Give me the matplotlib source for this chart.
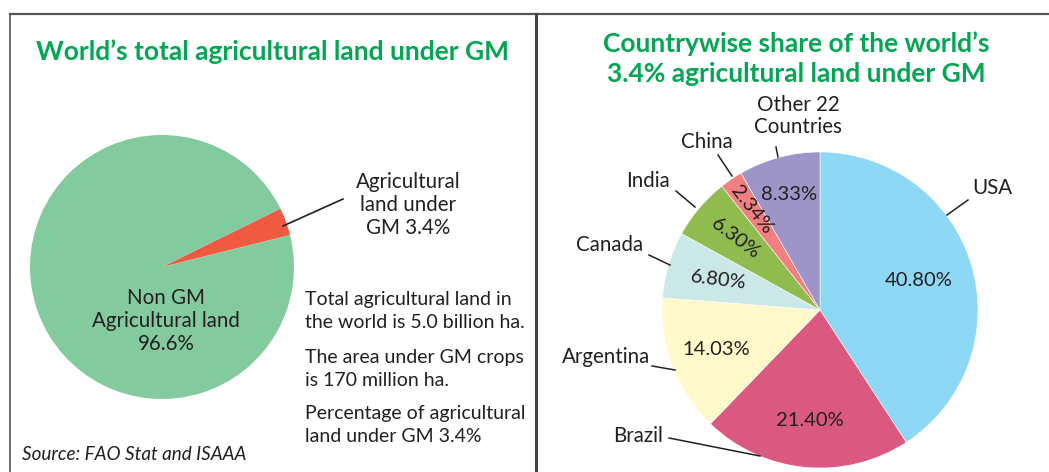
import matplotlib
matplotlib.use("Agg")
import matplotlib.pyplot as plt
import numpy as np

# ---- data ----
world_labels = ["Agricultural\nland under\nGM 3.4%", "Non GM\nAgricultural land\n96.6%"]
world_values = [3.4, 96.6]

countries = ["USA", "Brazil", "Argentina", "Canada", "India", "China", "Other 22\nCountries"]
country_share = [40.80, 21.40, 14.03, 6.80, 6.30, 2.34, 8.33]
share_text = ["40.80%", "21.40%", "14.03%", "6.80%", "6.30%", "2.34%", "8.33%"]

info_lines = ["Total agricultural land in", "the world is 5.0 billion ha.",
              "The area under GM crops", "is 170 million ha.",
              "Percentage of agricultural", "land under GM 3.4%"]

# ---- style ----
W, H = 1049, 472
FONT = "Lato"
TXT = "#231F20"
GREEN_T = "#00A651"
left_colors = ["#F15A40", "#83CB9E"]
right_colors = ["#8DD8F5", "#DB5880", "#FFF9CC", "#CAE8E6", "#90BC4F", "#F28080", "#9D95C8"]
TITLE_FS = 19
BODY_FS = 14.8

fig = plt.figure(figsize=(W / 100, H / 100), dpi=100)
ax = fig.add_axes([0, 0, 1, 1])


def Y(y):
    return H - y


# frame
ax.plot([10, W], [Y(14), Y(14)], color="#555555", lw=1.6)
ax.plot([10, 10], [Y(14), 0], color="#555555", lw=1.2)
ax.plot([536, 536], [Y(14), 0], color="#444444", lw=2.2)

# ---- left pie ----
lcx, lcy, lr = 162, 267, 132
ax.pie(world_values, colors=left_colors, startangle=14, counterclock=True,
       center=(lcx, Y(lcy)), radius=lr, frame=True,
       wedgeprops=dict(linewidth=0))

ax.text(273, Y(52), "World\u2019s total agricultural land under GM", ha="center", va="center",
        color=GREEN_T, fontsize=TITLE_FS, fontweight="bold", family=FONT)

ax.text(408, Y(205), world_labels[0], ha="center", va="center", color=TXT,
        fontsize=BODY_FS, family=FONT, linespacing=1.17)
ax.plot([343, 283], [Y(199), Y(226)], color=TXT, lw=1.2)
ax.text(166, Y(321), world_labels[1], ha="center", va="center", color=TXT,
        fontsize=BODY_FS, family=FONT, linespacing=1.2)

info_y = [300, 323, 357, 380, 413, 437]
for s, yy in zip(info_lines, info_y):
    ax.text(305, Y(yy), s, ha="left", va="center", color=TXT, fontsize=14, family=FONT)

ax.text(22, Y(455), "Source: FAO Stat and ISAAA", ha="left", va="center", color=TXT,
        fontsize=13.6, family=FONT, style="italic")

# ---- right pie ----
rcx, rcy, rr = 820, 310, 158
wedges, _ = ax.pie(country_share, colors=right_colors, startangle=90, counterclock=False,
                   center=(rcx, Y(rcy)), radius=rr, frame=True,
                   wedgeprops=dict(linewidth=0.4, edgecolor="white"))

ax.text(796, Y(44), "Countrywise share of the world\u2019s", ha="center", va="center",
        color=GREEN_T, fontsize=TITLE_FS, fontweight="bold", family=FONT)
ax.text(796, Y(74), "3.4% agricultural land under GM", ha="center", va="center",
        color=GREEN_T, fontsize=TITLE_FS, fontweight="bold", family=FONT)

label_r = [0.65, 0.70, 0.70, 0.67, 0.70, 0.77, 0.76]
label_rot = [0, 0, 0, -7, -37, -52, 0]
for w, t, fr, rot in zip(wedges, share_text, label_r, label_rot):
    mid = np.deg2rad((w.theta1 + w.theta2) / 2)
    x = rcx + fr * rr * np.cos(mid)
    y = Y(rcy) + fr * rr * np.sin(mid)
    ax.text(x, y, t, ha="center", va="center", color=TXT, fontsize=14.5,
            family=FONT, rotation=rot, rotation_mode="anchor")

# outer labels and leaders (pixel positions)
outer = {
    "USA": ((992, 188), ((968, 200), (947, 215))),
    "Brazil": ((638, 436), ((669, 438), (760, 456))),
    "Argentina": ((606, 357), ((652, 366), (675, 370))),
    "Canada": ((610, 245), ((649, 255), (670, 265))),
    "India": ((648, 181), ((676, 191), (695, 207))),
    "China": ((707, 142), ((718, 155), (732, 176))),
    "Other 22\nCountries": ((798, 116), ((776, 147), (778, 157))),
}
for name in countries:
    (tx, ty), ((x1, y1), (x2, y2)) = outer[name]
    ax.text(tx, Y(ty), name, ha="center", va="center", color=TXT, fontsize=BODY_FS,
            family=FONT, linespacing=1.17)
    ax.plot([x1, x2], [Y(y1), Y(y2)], color=TXT, lw=1.1)

ax.set_xlim(0, W)
ax.set_ylim(0, H)
ax.set_aspect("auto")
ax.axis("off")

fig.savefig("out.png", dpi=100, facecolor="white")
